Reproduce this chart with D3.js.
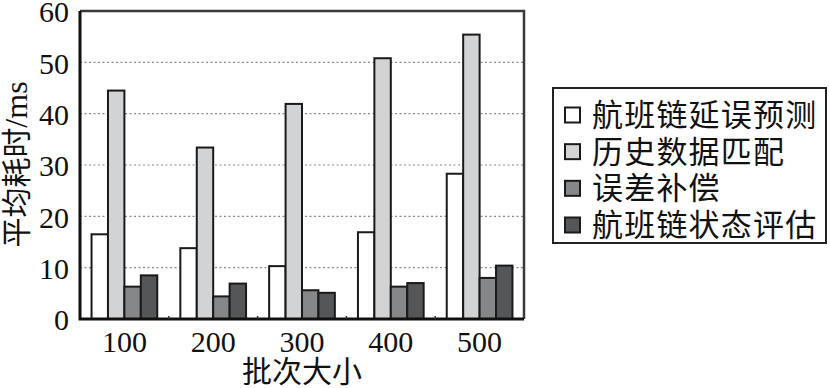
<!DOCTYPE html>
<html><head><meta charset="utf-8">
<script src="https://cdn.jsdelivr.net/npm/d3@7"></script>
<style>body{margin:0;background:#fff}svg{display:block}</style>
</head><body>
<script>
const categories = ["100","200","300","400","500"];
const seriesNames = ["航班链延误预测","历史数据匹配","误差补偿","航班链状态评估"];
const chainDelay = [16.5, 13.8, 10.3, 16.9, 28.3];
const historyMatch = [44.5, 33.4, 41.9, 50.8, 55.4];
const errorComp = [6.3, 4.4, 5.6, 6.3, 8.0];
const chainState = [8.5, 6.9, 5.1, 7.0, 10.4];
const yTicks = [0,10,20,30,40,50,60];
const colors = ["#ffffff","#d2d3d5","#868788","#555658"];
const seriesValues = [chainDelay, historyMatch, errorComp, chainState];

const W=830,H=388;
const m={l:80,t:11,r:524,b:319};
const svg=d3.select("body").append("svg").attr("width",W).attr("height",H);
const serif="'Liberation Serif','Noto Sans CJK SC',serif";
const cjk="'Noto Sans CJK SC','Liberation Serif',serif";

const x=d3.scaleBand().domain(categories).range([m.l,m.r]).paddingInner(0.26).paddingOuter(0.13);
const xs=d3.scaleBand().domain(d3.range(seriesNames.length)).range([0,x.bandwidth()]);
const y=d3.scaleLinear().domain([0,60]).range([m.b,m.t]);

// grid
svg.append("g").selectAll("line").data(yTicks.filter(d=>d>0&&d<60)).join("line")
  .attr("x1",m.l).attr("x2",m.r).attr("y1",d=>y(d)).attr("y2",d=>y(d))
  .attr("stroke","#8a8a8a").attr("stroke-width",1.2).attr("stroke-dasharray","2,2.5");

// bars
const g=svg.append("g");
categories.forEach((c,i)=>{
  seriesValues.forEach((vals,s)=>{
    g.append("rect").attr("x",x(c)+xs(s)).attr("width",xs.bandwidth())
     .attr("y",y(vals[i])).attr("height",y(0)-y(vals[i]))
     .attr("fill",colors[s]).attr("stroke","#1a1a1a").attr("stroke-width",2);
  });
});

// frame
svg.append("path").attr("d",`M${m.l},${m.t}H${m.r}V${m.b}`).attr("fill","none").attr("stroke","#3a3a3a").attr("stroke-width",2.5);
svg.append("path").attr("d",`M${m.l},${m.t}V${m.b}H${m.r}`).attr("fill","none").attr("stroke","#111").attr("stroke-width",3);

// small inward ticks between groups
const bnd=categories.slice(1).map(c=>x(c)-x.step()*x.paddingInner()/2);
svg.append("g").selectAll("line").data(bnd).join("line")
  .attr("x1",d=>d).attr("x2",d=>d).attr("y1",m.b).attr("y2",m.b-3)
  .attr("stroke","#333").attr("stroke-width",1.5);

// y axis labels
const yAxis=d3.axisLeft(y).tickValues(yTicks).tickSize(0).tickPadding(11);
const ya=svg.append("g").attr("transform",`translate(${m.l},0)`).call(yAxis);
ya.select(".domain").remove();
ya.selectAll("text").attr("font-family",serif).attr("font-size",30).attr("fill","#111").attr("dy","0.36em");

// x axis labels
const xAxis=d3.axisBottom(x).tickSize(0).tickPadding(12);
const xa=svg.append("g").attr("transform",`translate(0,${m.b})`).call(xAxis);
xa.select(".domain").remove();
xa.selectAll("text").attr("font-family",serif).attr("font-size",30).attr("fill","#111").attr("dy","0.71em");

// axis titles
svg.append("text").attr("x",(m.l+m.r)/2).attr("y",382).attr("text-anchor","middle")
  .attr("font-family",cjk).attr("font-size",30).attr("fill","#111").text("批次大小");
svg.append("text").attr("transform",`translate(27,${(77+252)/2}) rotate(-90)`).attr("text-anchor","middle")
  .attr("font-family",cjk).attr("font-size",30).attr("fill","#111")
  .selectAll("tspan").data([["平均耗时",cjk,30],["/ms",serif,32]]).join("tspan")
  .attr("font-family",d=>d[1]).attr("font-size",d=>d[2]).text(d=>d[0]);

// legend
const lg=svg.append("g");
lg.append("rect").attr("x",553).attr("y",88).attr("width",273).attr("height",155)
  .attr("fill","#fff").attr("stroke","#222").attr("stroke-width",2);
const rowY=d3.scalePoint().domain(seriesNames).range([115,225]);
seriesNames.forEach((n,i)=>{
  lg.append("rect").attr("x",565).attr("y",rowY(n)-7.5).attr("width",15).attr("height",15)
    .attr("fill",colors[i]).attr("stroke","#1a1a1a").attr("stroke-width",2);
  lg.append("text").attr("x",592).attr("y",rowY(n)).attr("dy","0.36em")
    .attr("font-family",cjk).attr("font-size",31).attr("letter-spacing",1.2).attr("fill","#111").text(n);
});
</script>
</body></html>
